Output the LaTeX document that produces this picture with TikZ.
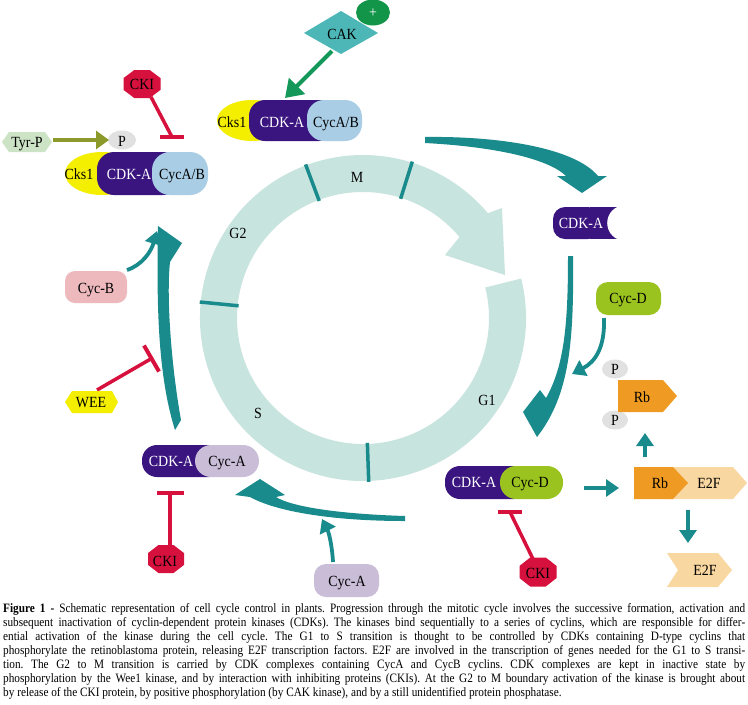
\documentclass[tikz,border=0pt]{standalone}
\usepackage{fontspec}
\setmainfont{Liberation Serif}
\newfontfamily\lblfont[FakeStretch=0.9]{Liberation Serif}
\newfontfamily\capfont[FakeStretch=0.88]{Liberation Serif}
\usetikzlibrary{arrows.meta}
\definecolor{teal1}{HTML}{1A8B8C}
\definecolor{ringc}{HTML}{C8E4DE}
\definecolor{cdk}{HTML}{3A1580}
\definecolor{cycab}{HTML}{A9CDE5}
\definecolor{cks}{HTML}{F4EE00}
\definecolor{cycd}{HTML}{9BC31F}
\definecolor{cyca}{HTML}{C9BDD7}
\definecolor{cycb}{HTML}{EDB9BD}
\definecolor{cki}{HTML}{D7113D}
\definecolor{cak}{HTML}{4DB7B7}
\definecolor{plusc}{HTML}{129449}
\definecolor{cakarrow}{HTML}{13985A}
\definecolor{olive1}{HTML}{8C9A2B}
\definecolor{tyr}{HTML}{CDE3C5}
\definecolor{pgrey}{HTML}{E1E1E1}
\definecolor{rbc}{HTML}{EF9A22}
\definecolor{e2fc}{HTML}{F9D7A1}
\newcommand\myoct[5]{\fill[#5] ({#1-#3},{#2-0.42*#4}) -- ({#1-0.42*#3},{#2-#4}) -- ({#1+0.42*#3},{#2-#4}) -- ({#1+#3},{#2-0.42*#4}) -- ({#1+#3},{#2+0.42*#4}) -- ({#1+0.42*#3},{#2+#4}) -- ({#1-0.42*#3},{#2+#4}) -- ({#1-#3},{#2+0.42*#4}) -- cycle;}
\frenchspacing
\begin{document}
\begin{tikzpicture}[x=1pt,y=-1pt,
  lbl/.style={inner sep=0pt, anchor=base, font=\lblfont\fontsize{15.5}{17}\selectfont},
  wlbl/.style={lbl, text=white},
  caplbl/.style={inner sep=0pt, anchor=base west, font=\capfont\fontsize{12.8}{14}\selectfont},
  tarrow/.style={draw=teal1, line width=3.8pt, -{Triangle[length=13pt,width=17pt]}},
  inhib/.style={draw=cki, line width=3.5pt},
  ibar/.style={draw=cki, line width=4pt},
  tick/.style={draw=teal1, line width=3.5pt}]
\fill[white] (0,0) rectangle (748,705);
\useasboundingbox (0,0) rectangle (748,705);

% ---- cell cycle ring ----
\begin{scope}[shift={(363,318)}, yscale=-1]
  \fill[ringc] (14:163) arc[start angle=14, end angle=-320, radius=163] -- (139,110) -- (142,43) -- (82,63) -- (-320:126) arc[start angle=-320, end angle=14, radius=126] -- cycle;
  \draw[tick] (110.5:125) -- (110.5:164);
  \draw[tick] (72.5:125) -- (72.5:164);
  \draw[tick] (174.4:125) -- (174.4:164);
  \draw[tick] (-88:125) -- (-88:164);
\end{scope}
\node[lbl] (phM) at (357,182) {M};
\node[lbl] (phG2) at (238,238) {G2};
\node[lbl] (phS) at (258,418) {S};
\node[lbl] (phG1) at (487,405) {G1};

% ---- big teal arrows ----
\fill[teal1] (425,137) .. controls (500,136) and (575,148) .. (598,176) -- (607,176) -- (582,193) -- (557,176) -- (566,176) .. controls (550,160) and (500,147) .. (425,143) -- cycle;
\fill[teal1] (568,256) -- (573,256) .. controls (574,340) and (570,395) .. (537,437) -- (523,412) -- (540,390) -- (546,398) .. controls (565,365) and (568,320) .. (568,256) -- cycle;
\fill[teal1] (405,516) .. controls (340,514) and (292,507) .. (276,497) -- (285,495) -- (260,479) -- (235,495) -- (250,497) .. controls (275,511) and (330,521) .. (405,521) -- cycle;
\fill[teal1] (175,430) -- (181,420) .. controls (172,370) and (166,300) .. (170,262) -- (182,243) -- (158,226) .. controls (157,290) and (156,370) .. (175,430) -- cycle;

% ---- CAK ----
\fill[cak] (304,33) -- (341,11) -- (378,33) -- (341,54) -- cycle;
\node[lbl] (cak) at (342,39) {CAK};
\fill[plusc] (373,12.5) ellipse[x radius=17, y radius=13];
\node[wlbl] (plus) at (373,17) {+};
\coordinate (cakS) at (332,51);
\coordinate (cakE) at (285,98);
\draw[cakarrow, line width=4pt, -{Triangle[length=17pt,width=22pt]}] (cakS) -- (cakE);

% ---- top complex ----
\fill[cks] (252,120.5) ellipse[x radius=35, y radius=20.5];
\fill[cdk, rounded corners=16] (249,100) rectangle (335,141);
\fill[cycab, rounded corners=17] (307,100) rectangle (362,141);
\node[lbl] (tcks) at (232,127) {Cks1};
\node[wlbl] (tcdk) at (282,127) {CDK-A};
\node[lbl] (tcyc) at (336,127) {CycA/B};

% ---- left complex ----
\draw[inhib] (151,97) -- (172,137);
\draw[ibar] (160,137) -- (184,137);
\myoct{142}{84}{18.5}{14}{cki}
\node[lbl] (ckiT) at (142,89) {CKI};
\fill[cks] (102,173.5) ellipse[x radius=37, y radius=21.5];
\fill[cdk, rounded corners=17] (97,152) rectangle (180,195);
\fill[cycab, rounded corners=18] (152,152) rectangle (208,195);
\node[lbl] (lcks) at (79,179) {Cks1};
\node[wlbl] (lcdk) at (129,179) {CDK-A};
\node[lbl] (lcyc) at (182,179) {CycA/B};
\fill[pgrey] (122,140) ellipse[x radius=14, y radius=9.5];
\node[lbl] (pT) at (122,146) {P};
\fill[tyr] (2,142) -- (9,132) -- (45,132) -- (52,142) -- (45,152) -- (9,152) -- cycle;
\node[lbl] (tyrp) at (27,147) {Tyr-P};
\coordinate (tyrE) at (53,140);
\coordinate (pW) at (109,140);
\draw[olive1, line width=4.5pt, -{Triangle[length=13pt,width=18pt]}] (tyrE) -- (pW);

% ---- Cyc-B, WEE ----
\fill[cycb, rounded corners=10] (65,271) rectangle (127,303);
\node[lbl] (cycB) at (96,293) {Cyc-B};
\coordinate (cycBo) at (127,270);
\coordinate (cycBi) at (157,231);
\draw[tarrow] (cycBo) .. controls (142,265) and (151,252) .. (cycBi);
\draw[inhib] (97,390) -- (151.5,358.5);
\draw[ibar] (144,345.5) -- (159,371.5);
\fill[cks] (65,402) -- (72,391) -- (112,391) -- (118,402) -- (112,413) -- (72,413) -- cycle;
\node[lbl] (wee) at (91,407) {WEE};

% ---- CDK-A / Cyc-A ----
\fill[cdk, rounded corners=15] (142,445) rectangle (225,477);
\fill[cyca, rounded corners=16] (195,445) rectangle (259,477);
\node[wlbl] (acdk) at (171,466) {CDK-A};
\node[lbl] (acyc) at (227,466) {Cyc-A};
\draw[inhib] (170,546) -- (170,493);
\draw[ibar] (157,493) -- (184,493);
\myoct{166}{559}{18}{14}{cki}
\node[lbl] (ckiL) at (165,566) {CKI};
\fill[cyca, rounded corners=12] (314,564) rectangle (379,597);
\node[lbl] (cycA) at (347,586) {Cyc-A};
\coordinate (cycAo) at (333,562);
\coordinate (cycAi) at (322,519);
\draw[tarrow] (cycAo) .. controls (332,545) and (329,533) .. (cycAi);

% ---- right side ----
\fill[cdk, rounded corners=12] (553,207) rectangle (600,239);
\fill[cdk] (590,207) rectangle (617,239);
\fill[white] (625,223) circle[radius=17.8];
\node[wlbl] (rcdk) at (581,228) {CDK-A};
\fill[cycd, rounded corners=12] (596,282) rectangle (661,315);
\node[lbl] (cycD) at (628,303) {Cyc-D};
\coordinate (cycDo) at (604,318);
\coordinate (cycDi) at (572,374);
\draw[tarrow] (cycDo) .. controls (605,348) and (595,362) .. (cycDi);

\fill[pgrey] (615,369) ellipse[x radius=13, y radius=9.5];
\node[lbl] (pR1) at (615,374) {P};
\fill[pgrey] (615,420) ellipse[x radius=13, y radius=9.5];
\node[lbl] (pR2) at (615,425) {P};
\fill[rbc] (618,380) -- (663,380) -- (677,396) -- (663,412) -- (618,412) -- cycle;
\node[lbl] (rbP) at (642,402) {Rb};

\fill[cdk, rounded corners=15] (445,466) rectangle (530,499);
\fill[cycd, rounded corners=16] (500,466) rectangle (563,499);
\node[wlbl] (dcdk) at (474,487) {CDK-A};
\node[lbl] (dcyc) at (530,487) {Cyc-D};
\draw[inhib] (533,559) -- (510,512);
\draw[ibar] (498,512) -- (522,512);
\myoct{538}{572}{18.5}{14.5}{cki}
\node[lbl] (ckiR) at (538,578) {CKI};

\fill[e2fc] (665,467) -- (733,467) -- (747,483) -- (733,499) -- (665,499) -- cycle;
\fill[rbc] (634,467) -- (673,467) -- (688,483) -- (673,499) -- (634,499) -- cycle;
\node[lbl] (rbE) at (660,488) {Rb};
\node[lbl] (e2fA) at (709,488) {E2F};
\fill[e2fc] (667,553) -- (718,553) -- (732,570) -- (718,587) -- (667,587) -- (678,570) -- cycle;
\node[lbl] (e2fB) at (705,575) {E2F};

\coordinate (dR) at (584,488);
\coordinate (rbL) at (619,488);
\draw[tarrow] (dR) -- (rbL);
\coordinate (rbU) at (645,457);
\coordinate (pB) at (645,433);
\draw[tarrow] (rbU) -- (pB);
\coordinate (e2fD) at (688,510);
\coordinate (e2fT) at (688,543);
\draw[tarrow] (e2fD) -- (e2fT);

% ---- caption ----
\node[caplbl] (cap1) at (3,612) {\makebox[742pt][s]{\textbf{Figure 1 -} Schematic representation of cell cycle control in plants. Progression through the mitotic cycle involves the successive formation, activation and}};
\node[caplbl] (cap2) at (3,626) {\makebox[742pt][s]{subsequent inactivation of cyclin-dependent protein kinases (CDKs). The kinases bind sequentially to a series of cyclins, which are responsible for differ-}};
\node[caplbl] (cap3) at (3,640) {\makebox[742pt][s]{ential activation of the kinase during the cell cycle. The G1 to S transition is thought to be controlled by CDKs containing D-type cyclins that}};
\node[caplbl] (cap4) at (3,654) {\makebox[742pt][s]{phosphorylate the retinoblastoma protein, releasing E2F transcription factors. E2F are involved in the transcription of genes needed for the G1 to S transi-}};
\node[caplbl] (cap5) at (3,668) {\makebox[742pt][s]{tion. The G2 to M transition is carried by CDK complexes containing CycA and CycB cyclins. CDK complexes are kept in inactive state by}};
\node[caplbl] (cap6) at (3,682) {\makebox[742pt][s]{phosphorylation by the Wee1 kinase, and by interaction with inhibiting proteins (CKIs). At the G2 to M boundary activation of the kinase is brought about}};
\node[caplbl] (cap7) at (3,696) {by release of the CKI protein, by positive phosphorylation (by CAK kinase), and by a still unidentified protein phosphatase.};
\end{tikzpicture}
\end{document}
